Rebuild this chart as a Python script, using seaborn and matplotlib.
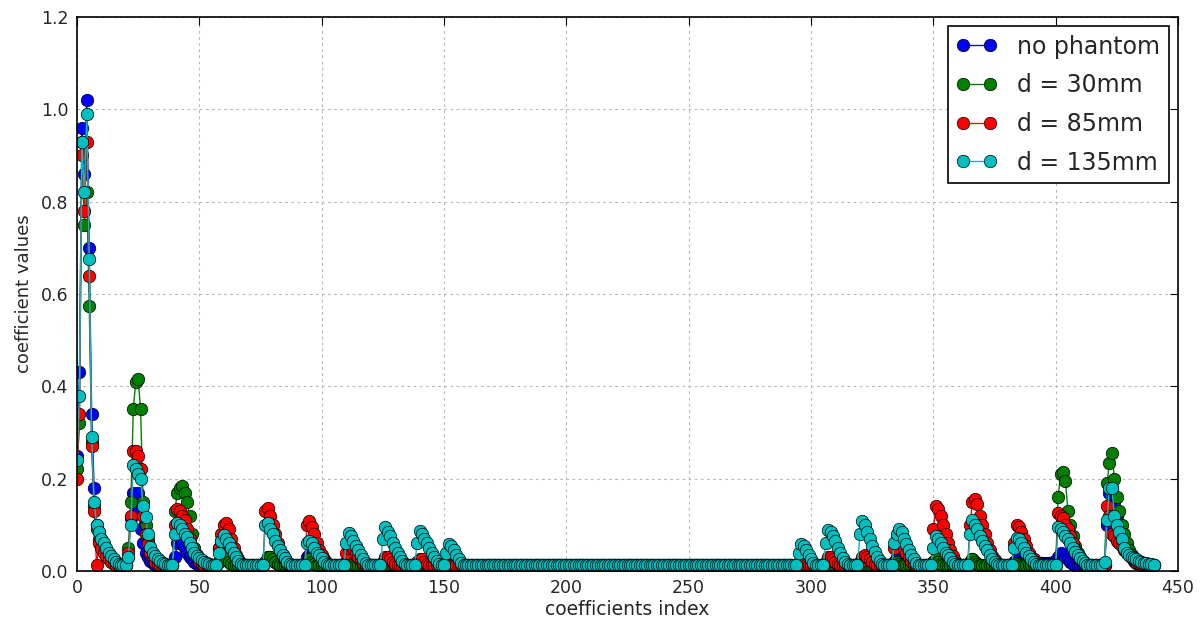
import numpy as np
import pandas as pd
import matplotlib
matplotlib.use("Agg")
import matplotlib.pyplot as plt
import seaborn as sns

# ---------------- data ----------------
n_coeffs = 441
baseline = 0.012
labels = ["no phantom", "d = 30mm", "d = 85mm", "d = 135mm"]
colors = ["#0000ff", "#008000", "#ff0000", "#00bfbf"]

seg_starts = [0, 20, 39, 57, 76, 93, 109, 124, 138, 150,
              294, 305, 319, 333, 349, 364, 382, 400, 420]

blue_segs = [
    [0.25, 0.43, 0.96, 0.86, 1.02, 0.70, 0.34, 0.18, 0.10, 0.085, 0.07, 0.055, 0.045, 0.035, 0.028, 0.022, 0.017, 0.014],
    [0.012, 0.03, 0.115, 0.17, 0.13, 0.17, 0.09, 0.06, 0.04, 0.03, 0.022, 0.017, 0.014],
    [0.012, 0.03, 0.06, 0.07, 0.06, 0.05, 0.04, 0.03, 0.025, 0.02, 0.015],
    [0.012, 0.05, 0.065, 0.06, 0.05, 0.04, 0.03, 0.02, 0.015],
    [0.012, 0.02, 0.03, 0.03, 0.025, 0.02, 0.015],
    [0.012, 0.03, 0.035, 0.03, 0.025, 0.02, 0.015],
    [0.012, 0.02, 0.025, 0.02, 0.015],
    [0.012, 0.015, 0.02, 0.015],
    [0.012, 0.015],
    [0.012],
    [0.012, 0.015],
    [0.012, 0.015, 0.018, 0.015],
    [0.012, 0.015, 0.02, 0.015],
    [0.012, 0.02, 0.03, 0.03, 0.025, 0.02, 0.015],
    [0.012, 0.02, 0.025, 0.02, 0.015],
    [0.012, 0.02, 0.025, 0.02, 0.015],
    [0.012, 0.02, 0.025, 0.025, 0.02, 0.02, 0.02, 0.02, 0.018, 0.018, 0.018, 0.018, 0.018, 0.018, 0.018, 0.018, 0.018, 0.02],
    [0.02, 0.03, 0.04, 0.035, 0.03, 0.025, 0.02, 0.015],
    [0.012, 0.10, 0.17, 0.18, 0.15, 0.12, 0.10, 0.08, 0.06, 0.045, 0.035, 0.028, 0.022, 0.018, 0.015, 0.013],
]

green_segs = [
    [0.22, 0.32, 0.93, 0.75, 0.82, 0.575, 0.28, 0.14, 0.09, 0.07, 0.055, 0.045, 0.035, 0.028, 0.022, 0.017, 0.014, 0.012],
    [0.012, 0.05, 0.15, 0.35, 0.41, 0.415, 0.35, 0.15, 0.10, 0.07, 0.05, 0.035, 0.025, 0.018, 0.014],
    [0.012, 0.13, 0.17, 0.18, 0.185, 0.17, 0.15, 0.12, 0.08, 0.05, 0.035, 0.025, 0.018, 0.014],
    [0.012, 0.02, 0.03, 0.03, 0.025, 0.02, 0.015],
    [0.012, 0.02, 0.03, 0.03, 0.025, 0.02, 0.015],
    [0.012, 0.02, 0.025, 0.02, 0.015],
    [0.012, 0.015, 0.02, 0.015],
    [0.012, 0.012, 0.015],
    [0.012],
    [0.012],
    [0.012],
    [0.012, 0.015],
    [0.012, 0.015],
    [0.012, 0.015, 0.02, 0.015],
    [0.012, 0.02, 0.025, 0.02, 0.015],
    [0.012, 0.02, 0.025, 0.02, 0.015],
    [0.012, 0.015, 0.018, 0.015],
    [0.012, 0.16, 0.21, 0.215, 0.195, 0.13, 0.10, 0.075, 0.055, 0.04, 0.03, 0.022, 0.016],
    [0.012, 0.19, 0.235, 0.255, 0.20, 0.16, 0.13, 0.10, 0.08, 0.06, 0.045, 0.035, 0.028, 0.022, 0.018, 0.015],
]

red_segs = [
    [0.20, 0.34, 0.90, 0.78, 0.93, 0.64, 0.27, 0.13, 0.012, 0.06, 0.05, 0.04, 0.032, 0.025, 0.02, 0.016, 0.013, 0.012],
    [0.012, 0.04, 0.12, 0.26, 0.26, 0.25, 0.22, 0.12, 0.08, 0.06, 0.04, 0.03, 0.02, 0.015],
    [0.012, 0.10, 0.135, 0.13, 0.12, 0.11, 0.09, 0.07, 0.05, 0.04, 0.03, 0.022, 0.016],
    [0.012, 0.05, 0.08, 0.10, 0.105, 0.09, 0.07, 0.05, 0.035, 0.025, 0.018, 0.014],
    [0.012, 0.13, 0.137, 0.12, 0.10, 0.08, 0.06, 0.045, 0.035, 0.025, 0.018, 0.014],
    [0.012, 0.10, 0.108, 0.095, 0.08, 0.06, 0.045, 0.035, 0.025, 0.018, 0.014],
    [0.012, 0.04, 0.05, 0.055, 0.05, 0.04, 0.03, 0.025, 0.018, 0.014],
    [0.012, 0.02, 0.03, 0.03, 0.025, 0.02, 0.015],
    [0.012, 0.02, 0.025, 0.025, 0.02, 0.015],
    [0.012, 0.015],
    [0.012, 0.015, 0.018, 0.015],
    [0.012, 0.02, 0.03, 0.03, 0.025, 0.02, 0.015],
    [0.012, 0.02, 0.03, 0.035, 0.03, 0.025, 0.02, 0.015],
    [0.012, 0.05, 0.075, 0.07, 0.06, 0.05, 0.04, 0.03, 0.022, 0.015],
    [0.012, 0.09, 0.14, 0.135, 0.12, 0.10, 0.08, 0.06, 0.045, 0.032, 0.022, 0.015],
    [0.012, 0.10, 0.15, 0.155, 0.145, 0.12, 0.10, 0.08, 0.06, 0.045, 0.033, 0.024, 0.017],
    [0.012, 0.06, 0.10, 0.095, 0.085, 0.07, 0.055, 0.04, 0.03, 0.025, 0.02, 0.015],
    [0.012, 0.125, 0.12, 0.115, 0.10, 0.09, 0.075, 0.06, 0.045, 0.035, 0.027, 0.02, 0.015],
    [0.012, 0.14, 0.12, 0.08, 0.075, 0.065, 0.06, 0.055, 0.045, 0.04, 0.035, 0.03, 0.025, 0.02, 0.017, 0.015],
]

cyan_segs = [
    [0.24, 0.38, 0.93, 0.82, 0.99, 0.675, 0.29, 0.15, 0.10, 0.085, 0.07, 0.06, 0.05, 0.04, 0.032, 0.025, 0.02, 0.016, 0.013],
    [0.012, 0.03, 0.10, 0.23, 0.22, 0.21, 0.20, 0.14, 0.117, 0.08, 0.052, 0.04, 0.032, 0.026, 0.022, 0.018, 0.015],
    [0.012, 0.08, 0.105, 0.10, 0.09, 0.08, 0.074, 0.06, 0.05, 0.04, 0.033, 0.028, 0.024, 0.02, 0.017, 0.015],
    [0.012, 0.04, 0.065, 0.078, 0.07, 0.06, 0.05, 0.04, 0.03, 0.022, 0.016, 0.013],
    [0.012, 0.10, 0.105, 0.09, 0.08, 0.065, 0.055, 0.045, 0.035, 0.028, 0.02, 0.015],
    [0.012, 0.06, 0.065, 0.06, 0.05, 0.04, 0.035, 0.028, 0.02, 0.015],
    [0.012, 0.06, 0.082, 0.075, 0.065, 0.055, 0.045, 0.035, 0.025, 0.018, 0.014],
    [0.012, 0.07, 0.095, 0.085, 0.075, 0.06, 0.05, 0.04, 0.03, 0.022, 0.015],
    [0.012, 0.06, 0.087, 0.08, 0.07, 0.06, 0.05, 0.04, 0.03, 0.022, 0.015],
    [0.012, 0.04, 0.058, 0.055, 0.045, 0.035, 0.025, 0.018, 0.014],
    [0.012, 0.04, 0.058, 0.055, 0.045, 0.035, 0.025, 0.018, 0.014],
    [0.012, 0.06, 0.088, 0.085, 0.075, 0.065, 0.05, 0.038, 0.028, 0.02, 0.015],
    [0.012, 0.08, 0.108, 0.10, 0.085, 0.07, 0.055, 0.042, 0.03, 0.022, 0.015],
    [0.012, 0.06, 0.08, 0.09, 0.085, 0.07, 0.058, 0.045, 0.035, 0.025, 0.018, 0.014],
    [0.012, 0.05, 0.075, 0.07, 0.06, 0.05, 0.04, 0.035, 0.028, 0.02, 0.015],
    [0.012, 0.08, 0.11, 0.10, 0.09, 0.075, 0.065, 0.055, 0.045, 0.035, 0.027, 0.02, 0.015],
    [0.012, 0.05, 0.072, 0.07, 0.06, 0.05, 0.04, 0.032, 0.025, 0.02, 0.015],
    [0.012, 0.095, 0.09, 0.085, 0.075, 0.07, 0.06, 0.05, 0.042, 0.035, 0.028, 0.022, 0.017, 0.014],
    [0.02, 0.11, 0.18, 0.18, 0.12, 0.10, 0.085, 0.07, 0.05, 0.04, 0.035, 0.03, 0.028, 0.025, 0.022, 0.02, 0.018, 0.017, 0.016, 0.015, 0.014],
]

x_ticks = [0, 50, 100, 150, 200, 250, 300, 350, 400, 450]
y_ticks = [0.0, 0.2, 0.4, 0.6, 0.8, 1.0, 1.2]


def assemble(segs):
    vals = np.full(n_coeffs, baseline)
    for s, v in zip(seg_starts, segs):
        vals[s:s + len(v)] = v
    return vals


series = [assemble(s) for s in (blue_segs, green_segs, red_segs, cyan_segs)]
idx = np.arange(n_coeffs)
frames = []
for lab, vals in zip(labels, series):
    frames.append(pd.DataFrame({"index": idx, "value": vals, "series": lab}))
df = pd.concat(frames, ignore_index=True)

# ---------------- style ----------------
sns.set_style("white")
plt.rcParams["font.family"] = ["DejaVu Sans"]

fig = plt.figure(figsize=(12.03, 6.23), dpi=100)
ax = fig.add_axes([77 / 1203, 1 - 571 / 623, (1178 - 77) / 1203, (571 - 17) / 623])

for lab, col in zip(labels, colors):
    sub = df[df["series"] == lab]
    sns.lineplot(data=sub, x="index", y="value", ax=ax, color=col, label=lab,
                 marker="o", markersize=9, markeredgecolor="black",
                 markeredgewidth=0.5, linewidth=1.0, sort=False,
                 estimator=None, errorbar=None)

ax.set_xlim(0, 450)
ax.set_ylim(0, 1.2)
ax.set_xticks(x_ticks)
ax.set_yticks(y_ticks)
ax.set_xticklabels([str(t) for t in x_ticks])
ax.set_yticklabels([f"{t:.1f}" for t in y_ticks])
ax.set_xlabel("coefficients index", fontsize=13.5, labelpad=2)
ax.set_ylabel("coefficient values", fontsize=13, labelpad=6)
ax.grid(True, color="0.72", linestyle=(0, (2.5, 3)), linewidth=0.8)
ax.tick_params(direction="in", length=6, width=0.8, top=True, right=True,
               labelsize=12.5, pad=6, color="black")
for sp in ax.spines.values():
    sp.set_color("black")
    sp.set_linewidth(1.2)

leg = ax.legend(loc="upper right", numpoints=2, fancybox=False, frameon=True,
                edgecolor="black", framealpha=1, fontsize=17,
                handlelength=1.75, borderpad=0.35, labelspacing=0.62,
                handletextpad=0.85, borderaxespad=0.4)
leg.get_frame().set_linewidth(1.2)

fig.savefig("out.png", dpi=100)
